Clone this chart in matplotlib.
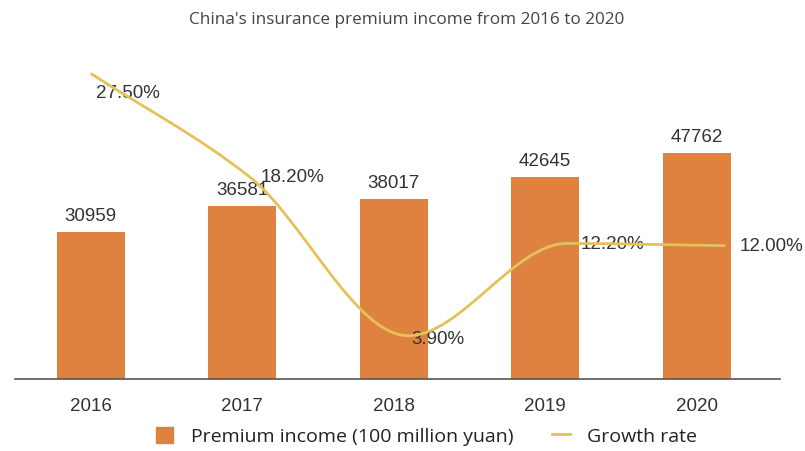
import numpy as np
import matplotlib
matplotlib.use("Agg")
import matplotlib.pyplot as plt
from matplotlib.path import Path
from matplotlib.patches import PathPatch
from matplotlib.lines import Line2D
from matplotlib.patches import Rectangle

# Data
years = ["2016", "2017", "2018", "2019", "2020"]
premium = [30959, 36581, 38017, 42645, 47762]
growth = [27.5, 18.2, 3.9, 12.2, 12.0]
growth_labels = ["27.50%", "18.20%", "3.90%", "12.20%", "12.00%"]

BAR_COLOR = "#E0823F"
LINE_COLOR = "#E6C15A"
TEXT_COLOR = "#333333"

W, H = 805, 452
fig = plt.figure(figsize=(W / 100, H / 100), dpi=100)
fig.patch.set_facecolor("white")

# axes rectangle in pixels: left 15, right 780, bottom 380, top 60
rect = [15 / W, (H - 380) / H, 765 / W, 320 / H]

# Bars
ax = fig.add_axes(rect)
x = np.arange(len(years))
ax.bar(x, premium, width=0.45, color=BAR_COLOR, zorder=2)
ax.set_xlim(-0.5, 4.55)
ax.set_ylim(0, 67600)
for s in ["top", "right", "left"]:
    ax.spines[s].set_visible(False)
ax.spines["bottom"].set_color("#555555")
ax.spines["bottom"].set_linewidth(1.2)
ax.set_yticks([])
ax.set_xticks(x)
ax.set_xticklabels(years, fontsize=13.5, color=TEXT_COLOR, family="Liberation Sans")
ax.tick_params(axis="x", length=0, pad=13)
for xi, v in zip(x, premium):
    ax.annotate(str(v), (xi, v), xytext=(0, 6), textcoords="offset points",
                ha="center", va="bottom", fontsize=13.5, color=TEXT_COLOR,
                family="Liberation Sans", zorder=3)

# Growth rate line on an overlaid axes
ax2 = fig.add_axes(rect, facecolor="none")
ax2.set_xlim(-0.477, 4.342)
ax2.set_ylim(0, 28.8)
ax2.axis("off")

# smooth monotone cubic through the points, drawn as Bezier segments
px = np.arange(len(growth), dtype=float)
py = np.array(growth, dtype=float)
d = np.diff(py) / np.diff(px)
m = np.zeros_like(py)
m[0], m[-1] = d[0], d[-1]
for i in range(1, len(py) - 1):
    if d[i - 1] * d[i] > 0:
        m[i] = 2 / (1 / d[i - 1] + 1 / d[i])
verts = [(px[0], py[0])]
codes = [Path.MOVETO]
for i in range(len(py) - 1):
    h = px[i + 1] - px[i]
    verts += [(px[i] + h / 3, py[i] + m[i] * h / 3),
              (px[i + 1] - h / 3, py[i + 1] - m[i + 1] * h / 3),
              (px[i + 1], py[i + 1])]
    codes += [Path.CURVE4] * 3
ax2.add_patch(PathPatch(Path(verts, codes), facecolor="none",
                        edgecolor=LINE_COLOR, lw=2, zorder=5))

offsets = [(4, -14), (8, 0), (2, -2), (10, 0), (10, 0)]
for xi, yi, lab, off in zip(px, py, growth_labels, offsets):
    ax2.annotate(lab, (xi, yi), xytext=off, textcoords="offset points",
                 ha="left", va="center", fontsize=13.5, color=TEXT_COLOR,
                 family="Liberation Sans", zorder=4)

# Title
fig.text(0.505, 1 - 20 / H, "China's insurance premium income from 2016 to 2020",
         ha="center", va="center", fontsize=12.3, color="#444444", family="Open Sans")

# Legend
handles = [Rectangle((0, 0), 1, 1, color=BAR_COLOR),
           Line2D([], [], color=LINE_COLOR, lw=2)]
fig.legend(handles, ["Premium income (100 million yuan)", "Growth rate"],
           loc="center", bbox_to_anchor=(0.53, 1 - 437 / H), ncol=2, frameon=False,
           prop={"family": "Open Sans", "size": 14}, handlelength=0.9,
           handleheight=0.9, columnspacing=2.0, handletextpad=0.9,
           labelcolor="#222222")

fig.savefig("out.png", dpi=100, facecolor="white")
